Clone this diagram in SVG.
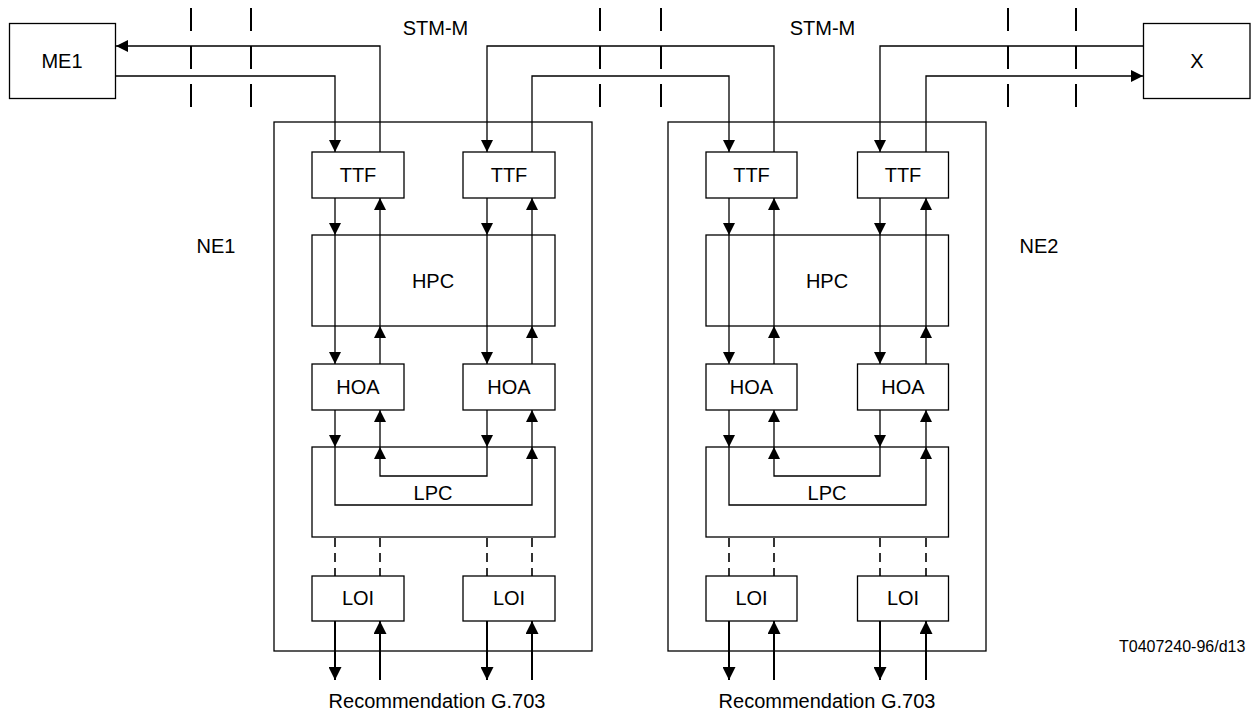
<svg xmlns="http://www.w3.org/2000/svg" width="1257" height="713" viewBox="0 0 1257 713">
<style>
.box{fill:#fff;stroke:#000;stroke-width:1.3}
.ne{fill:none;stroke:#000;stroke-width:1.3}
.ln{fill:none;stroke:#000;stroke-width:1.3}
.thk{fill:none;stroke:#000;stroke-width:2}
.dash{fill:none;stroke:#000;stroke-width:1.6;stroke-dasharray:9 6}
.tick{fill:none;stroke:#000;stroke-width:2;stroke-dasharray:23 15}
text{font-family:"Liberation Sans",Arial,sans-serif;font-size:20px;fill:#000;text-anchor:middle}
.ref{font-size:16px;text-anchor:start}
</style>
<defs>
<marker id="a" viewBox="0 0 12 12" refX="12" refY="6" markerWidth="12" markerHeight="12" markerUnits="userSpaceOnUse" orient="auto"><path d="M0,0 L12,6 L0,12 z" fill="#000"/></marker>
<marker id="b" viewBox="0 0 13 13" refX="13" refY="6.5" markerWidth="13" markerHeight="13" markerUnits="userSpaceOnUse" orient="auto"><path d="M0,0 L13,6.5 L0,13 z" fill="#000"/></marker>
</defs>

<g id="ticks">
<path class="tick" d="M191,8 V107 M251,8 V107 M600,8 V107 M661,8 V107 M1008,8 V107 M1076,8 V107"/>
</g>

<g id="ME1"><rect class="box" x="9.5" y="23.5" width="106" height="75"/><text x="62" y="68">ME1</text></g>
<g id="X"><rect class="box" x="1143.5" y="23.5" width="106.5" height="75"/><text x="1197" y="68">X</text></g>

<text x="435.5" y="35">STM-M</text>
<text x="822.5" y="35">STM-M</text>

<g id="NE1">
<rect class="ne" x="274" y="122" width="318" height="529"/>
<text x="216" y="253">NE1</text>
<g id="NE1-TTF1"><rect class="box" x="312" y="152" width="92" height="46"/><text x="358" y="182">TTF</text></g>
<g id="NE1-TTF2"><rect class="box" x="463" y="152" width="92" height="46"/><text x="509" y="182">TTF</text></g>
<g id="NE1-HPC"><rect class="box" x="312" y="235" width="243" height="91"/><text x="433" y="288">HPC</text></g>
<g id="NE1-HOA1"><rect class="box" x="312" y="364" width="92" height="46"/><text x="358" y="394">HOA</text></g>
<g id="NE1-HOA2"><rect class="box" x="463" y="364" width="92" height="46"/><text x="509" y="394">HOA</text></g>
<g id="NE1-LPC"><rect class="box" x="312" y="447" width="243" height="90"/><text x="433" y="500">LPC</text></g>
<g id="NE1-LOI1"><rect class="box" x="312" y="576" width="92" height="45"/><text x="358" y="605">LOI</text></g>
<g id="NE1-LOI2"><rect class="box" x="463" y="576" width="92" height="45"/><text x="509" y="605">LOI</text></g>
</g>

<g id="NE2">
<rect class="ne" x="668" y="122" width="318" height="529"/>
<text x="1039" y="253">NE2</text>
<g id="NE2-TTF1"><rect class="box" x="706" y="152" width="91" height="46"/><text x="751.5" y="182">TTF</text></g>
<g id="NE2-TTF2"><rect class="box" x="857.5" y="152" width="91" height="46"/><text x="903" y="182">TTF</text></g>
<g id="NE2-HPC"><rect class="box" x="706" y="235" width="242.5" height="91"/><text x="827" y="288">HPC</text></g>
<g id="NE2-HOA1"><rect class="box" x="706" y="364" width="91" height="46"/><text x="751.5" y="394">HOA</text></g>
<g id="NE2-HOA2"><rect class="box" x="857.5" y="364" width="91" height="46"/><text x="903" y="394">HOA</text></g>
<g id="NE2-LPC"><rect class="box" x="706" y="447" width="242.5" height="90"/><text x="827" y="500">LPC</text></g>
<g id="NE2-LOI1"><rect class="box" x="706" y="576" width="91" height="45"/><text x="751.5" y="605">LOI</text></g>
<g id="NE2-LOI2"><rect class="box" x="857.5" y="576" width="91" height="45"/><text x="903" y="605">LOI</text></g>
</g>

<g id="connectors">
<!-- external STM-M links -->
<path class="ln" d="M116,76 H335 V152" marker-end="url(#a)"/>
<path class="ln" d="M380,152 V46 H116" marker-end="url(#a)"/>
<path class="ln" d="M774,152 V46 H487 V152" marker-end="url(#a)"/>
<path class="ln" d="M532,152 V76 H729 V152" marker-end="url(#a)"/>
<path class="ln" d="M1143,46 H880 V152" marker-end="url(#a)"/>
<path class="ln" d="M926,152 V76 H1143" marker-end="url(#a)"/>

<!-- NE1 internal -->
<path class="ln" d="M335,198 V235" marker-end="url(#a)"/>
<path class="ln" d="M335,235 V364" marker-end="url(#a)"/>
<path class="ln" d="M380,326 V198" marker-end="url(#a)"/>
<path class="ln" d="M380,364 V326" marker-end="url(#a)"/>
<path class="ln" d="M487,198 V235" marker-end="url(#a)"/>
<path class="ln" d="M487,235 V364" marker-end="url(#a)"/>
<path class="ln" d="M532,326 V198" marker-end="url(#a)"/>
<path class="ln" d="M532,364 V326" marker-end="url(#a)"/>
<path class="ln" d="M335,410 V447" marker-end="url(#a)"/>
<path class="ln" d="M335,447 V505 H532 V447" marker-end="url(#a)"/>
<path class="ln" d="M532,447 V410" marker-end="url(#a)"/>
<path class="ln" d="M487,410 V447" marker-end="url(#a)"/>
<path class="ln" d="M487,447 V476 H380 V447" marker-end="url(#a)"/>
<path class="ln" d="M380,447 V410" marker-end="url(#a)"/>
<path class="dash" d="M335,538 V576 M380,538 V576 M487,538 V576 M532,538 V576"/>
<path class="thk" d="M335,621 V680" marker-end="url(#b)"/>
<path class="thk" d="M380,680 V621" marker-end="url(#b)"/>
<path class="thk" d="M487,621 V680" marker-end="url(#b)"/>
<path class="thk" d="M532,680 V621" marker-end="url(#b)"/>

<!-- NE2 internal -->
<path class="ln" d="M729,198 V235" marker-end="url(#a)"/>
<path class="ln" d="M729,235 V364" marker-end="url(#a)"/>
<path class="ln" d="M774,326 V198" marker-end="url(#a)"/>
<path class="ln" d="M774,364 V326" marker-end="url(#a)"/>
<path class="ln" d="M880,198 V235" marker-end="url(#a)"/>
<path class="ln" d="M880,235 V364" marker-end="url(#a)"/>
<path class="ln" d="M926,326 V198" marker-end="url(#a)"/>
<path class="ln" d="M926,364 V326" marker-end="url(#a)"/>
<path class="ln" d="M729,410 V447" marker-end="url(#a)"/>
<path class="ln" d="M729,447 V505 H926 V447" marker-end="url(#a)"/>
<path class="ln" d="M926,447 V410" marker-end="url(#a)"/>
<path class="ln" d="M880,410 V447" marker-end="url(#a)"/>
<path class="ln" d="M880,447 V476 H774 V447" marker-end="url(#a)"/>
<path class="ln" d="M774,447 V410" marker-end="url(#a)"/>
<path class="dash" d="M729,538 V576 M774,538 V576 M880,538 V576 M926,538 V576"/>
<path class="thk" d="M729,621 V680" marker-end="url(#b)"/>
<path class="thk" d="M774,680 V621" marker-end="url(#b)"/>
<path class="thk" d="M880,621 V680" marker-end="url(#b)"/>
<path class="thk" d="M926,680 V621" marker-end="url(#b)"/>
</g>

<text x="437" y="708">Recommendation G.703</text>
<text x="827" y="708">Recommendation G.703</text>
<text class="ref" x="1119" y="652">T0407240-96/d13</text>
</svg>
